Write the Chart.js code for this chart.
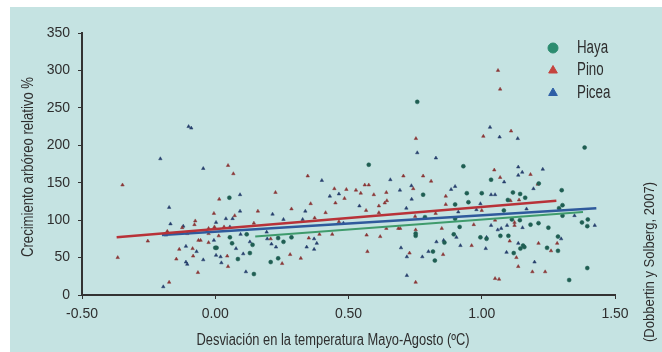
<!DOCTYPE html>
<html lang="es">
<head>
    <meta charset="UTF-8">
    <title>Crecimiento arbóreo relativo</title>
    <script src="https://cdn.jsdelivr.net/npm/chart.js"></script>
    <style>
        body { margin: 0; background: #fff; }
        .container { width: 662px; height: 352px; }
    </style>
</head>
<body>
<div class="container">
    <canvas id="grafico" width="662" height="352"></canvas>
</div>
<script>
    // Datos (x = desviación ºC, y = crecimiento %)
    const seriesNames = ['Haya', 'Pino', 'Picea'];
    const xTicks = [-0.5, 0, 0.5, 1, 1.5];
    const yTicks = [0, 50, 100, 150, 200, 250, 300, 350];

    const haya = [
        [0.053,130],[0.758,258],[0.576,174],[0.78,134],[1.386,197],[0.931,172],[1.035,154],[1.214,149],
        [1.30,140],[0.944,136],[1.0,136],[1.117,137],[1.144,135],[1.163,130],[0.055,77],[0.118,81],
        [0.063,69],[0.14,67],[0,63],[0.005,63],[0.085,48],[0.13,56],[0.145,28],[0.787,104],
        [0.752,82],[0.752,79],[0.236,76],[0.256,71],[0.286,77],[0.236,49],[0.208,44],[0.817,58],
        [0.824,46],[0.95,124],[0.90,121],[1.098,127],[1.083,113],[1.303,120],[1.29,116],[1.303,106],
        [1.376,97],[1.398,101],[1.396,92],[0.90,102],[0.917,91],[1.113,101],[1.143,100],[1.183,94],
        [1.213,96],[1.25,90],[1.07,79],[0.895,81],[0.86,70],[0.995,77],[1.018,75],[1.10,79],
        [1.155,66],[1.16,64],[1.145,62],[1.286,78],[1.245,63],[1.286,59],[1.12,56],[1.396,36],[1.328,20]
    ];
    const pino = [
        [0.048,173],[0.068,162],[-0.348,147],[0.015,128],[0.753,209],[0.347,159],[0.226,137],[0.447,142],
        [0.492,141],[0.528,140],[0.561,147],[0.576,147],[0.546,136],[0.485,129],[0.595,134],[0.642,137],
        [0.706,159],[0.743,142],[0.78,159],[0.81,152],[1.11,219],[1.006,212],[1.047,167],[1.183,161],
        [1.069,157],[1.21,148],[0.865,132],[1.061,300],[1.069,275],[-0.005,109],[0.073,106],[-0.075,99],
        [-0.078,94],[-0.124,90],[-0.18,85],[-0.025,89],[-0.003,91],[0.033,91],[0.16,112],[0.145,96],
        [-0.025,82],[-0.105,82],[-0.253,72],[-0.366,50],[-0.063,73],[-0.055,73],[-0.025,70],[0.013,79],
        [-0.135,61],[-0.085,62],[-0.083,52],[-0.146,48],[0.045,52],[0.048,38],[-0.065,30],[-0.173,17],
        [0.286,115],[0.358,122],[0.451,123],[0.414,110],[0.373,103],[0.566,113],[0.614,119],[0.614,110],
        [0.636,123],[0.644,126],[0.75,105],[0.827,109],[0.464,98],[0.642,89],[0.687,89],[0.694,89],
        [0.752,87],[0.391,81],[0.439,81],[0.568,80],[0.619,78],[0.208,75],[0.351,76],[0.281,54],
        [0.321,49],[0.251,42],[0.571,58],[0.729,56],[0.752,17],[0.865,121],[1.108,126],[1.14,127],
        [1.0,113],[0.85,89],[0.97,94],[1.05,100],[1.123,97],[1.123,93],[1.105,72],[0.962,66],
        [1.213,69],[1.283,69],[1.26,59],[1.13,50],[1.137,38],[1.19,31],[1.238,31],[1.05,22],
        [1.065,21],[0.855,54]
    ];
    const picea = [
        [-0.10,225],[-0.09,223],[-0.206,182],[-0.045,169],[0.093,134],[0.758,190],[0.828,183],[0.40,153],
        [0.464,135],[0.43,132],[0.657,154],[0.693,140],[0.736,146],[0.737,128],[1.031,224],[1.067,211],
        [1.135,209],[1.137,171],[1.229,168],[1.152,164],[1.137,160],[1.084,151],[1.194,142],[0.90,145],
        [0.885,141],[1.035,134],[1.05,134],[-0.173,117],[0.093,112],[0.065,102],[0.04,102],[0.003,97],
        [-0.168,95],[-0.12,92],[0.055,91],[-0.005,73],[0.095,81],[0.13,71],[0.078,62],[-0.11,65],
        [-0.07,58],[-0.11,44],[-0.105,41],[-0.045,47],[0.003,53],[0.02,51],[0.023,43],[0.105,55],
        [0.115,31],[-0.195,11],[-0.185,80],[0.338,112],[0.215,108],[0.256,101],[0.328,101],[0.541,119],
        [0.717,116],[0.481,96],[0.193,84],[0.195,75],[0.371,75],[0.211,68],[0.228,64],[0.343,64],
        [0.371,61],[0.381,69],[0.697,63],[0.719,51],[0.777,51],[0.8,58],[0.83,71],[0.719,26],
        [0.912,111],[0.995,122],[0.98,114],[1.168,115],[1.348,106],[1.424,93],[1.035,93],[1.06,87],
        [1.073,89],[1.095,93],[1.153,90],[0.905,77],[0.857,73],[1.018,77],[0.92,66],[1.015,62],
        [1.137,69],[1.298,75],[1.093,57],[1.198,44]
    ];

    // Rectas de regresión (extremos)
    const hayaLinea = [[0.15,78],[1.38,111]];
    const pinoLinea = [[-0.37,77],[1.28,126]];
    const piceaLinea = [[-0.2,80],[1.43,116]];

    const FONT = '"Liberation Sans", Arial, sans-serif';
    const TEXTO = '#2e2e2e';
    const colores = {
        Haya:  { punto: '#1f5e52', linea: '#3f9b6c', leyenda: '#2b8c6f' },
        Pino:  { punto: '#8a3636', linea: '#b83238', leyenda: '#c5443e' },
        Picea: { punto: '#263f6c', linea: '#2f5a9c', leyenda: '#2d5ea6' }
    };

    const aPuntos = arr => arr.map(p => ({ x: p[0], y: p[1] }));

    function nube(nombre, datos, estilo) {
        return {
            label: nombre,
            data: aPuntos(datos),
            showLine: false,
            pointStyle: estilo,
            pointRadius: 2,
            pointBorderWidth: 0.5,
            pointBackgroundColor: colores[nombre].punto,
            pointBorderColor: colores[nombre].punto,
            order: 2
        };
    }

    function recta(nombre, datos, ancho) {
        return {
            label: nombre + ' tendencia',
            data: aPuntos(datos),
            showLine: true,
            pointRadius: 0,
            borderColor: colores[nombre].linea,
            borderWidth: ancho,
            order: 1
        };
    }

    // texto estrecho: se comprime en horizontal hasta el ancho indicado
    function textoAjustado(ctx, texto, x, y, ancho, angulo) {
        ctx.save();
        ctx.translate(x, y);
        if (angulo) ctx.rotate(angulo);
        const w = ctx.measureText(texto).width;
        ctx.scale(ancho / w, 1);
        ctx.fillText(texto, 0, 0);
        ctx.restore();
    }

    const fondo = {
        id: 'fondo',
        beforeDraw(chart) {
            const ctx = chart.ctx;
            ctx.save();
            ctx.fillStyle = '#ffffff';
            ctx.fillRect(0, 0, chart.width, chart.height);
            ctx.fillStyle = '#c5e3e2';
            ctx.fillRect(10, 7, chart.width - 10, chart.height - 7);
            ctx.restore();
        },
        afterDraw(chart) {
            const ctx = chart.ctx;
            ctx.save();
            ctx.fillStyle = TEXTO;
            ctx.textAlign = 'center';
            ctx.textBaseline = 'middle';

            ctx.font = '16px ' + FONT;
            textoAjustado(ctx, 'Crecimiento arbóreo relativo %', 29, 167, 180, -Math.PI / 2);
            textoAjustado(ctx, 'Desviación en la temperatura Mayo-Agosto (ºC)', 333, 341, 273);
            ctx.font = '15px ' + FONT;
            textoAjustado(ctx, '(Dobbertin y Solberg, 2007)', 650, 262, 160, -Math.PI / 2);

            // leyenda
            const estilos = { Haya: 'circle', Pino: 'triangle', Picea: 'triangle' };
            ctx.textAlign = 'left';
            ctx.font = '18px ' + FONT;
            seriesNames.forEach((nombre, i) => {
                const y = 48 + i * 22.5;
                ctx.fillStyle = colores[nombre].leyenda;
                ctx.strokeStyle = colores[nombre].leyenda;
                Chart.helpers.drawPoint(ctx, { pointStyle: estilos[nombre], radius: 5, borderWidth: 1 }, 553, y);
                ctx.fillStyle = TEXTO;
                ctx.save();
                ctx.translate(577, y);
                ctx.scale(0.74, 1);
                ctx.fillText(nombre, 0, 0);
                ctx.restore();
            });
            ctx.restore();
        }
    };

    const ejeComun = {
        grid: { display: true, drawOnChartArea: false, drawTicks: true, tickLength: 4, color: '#333' },
        border: { display: true, color: '#333', width: 2 }
    };

    new Chart(document.getElementById('grafico'), {
        type: 'scatter',
        data: {
            datasets: [
                recta('Pino', pinoLinea, 2.5),
                recta('Picea', piceaLinea, 2.5),
                recta('Haya', hayaLinea, 2),
                nube('Haya', haya, 'circle'),
                nube('Pino', pino, 'triangle'),
                nube('Picea', picea, 'triangle')
            ]
        },
        options: {
            responsive: false,
            animation: false,
            layout: { padding: { left: 0, top: 33, right: 47, bottom: 0 } },
            plugins: { legend: { display: false }, tooltip: { enabled: false } },
            scales: {
                x: {
                    ...ejeComun,
                    type: 'linear',
                    min: -0.5,
                    max: 1.5,
                    afterBuildTicks: s => { s.ticks = xTicks.map(v => ({ value: v })); },
                    afterFit: s => { s.height = 57; },
                    ticks: {
                        padding: 7,
                        color: TEXTO,
                        font: { family: FONT, size: 14 },
                        callback: v => v.toFixed(2)
                    }
                },
                y: {
                    ...ejeComun,
                    min: 0,
                    max: 350,
                    afterBuildTicks: s => { s.ticks = yTicks.map(v => ({ value: v })); },
                    afterFit: s => { s.width = 82; },
                    ticks: {
                        padding: 8,
                        color: TEXTO,
                        font: { family: FONT, size: 14 }
                    }
                }
            }
        },
        plugins: [fondo]
    });
</script>
</body>
</html>
